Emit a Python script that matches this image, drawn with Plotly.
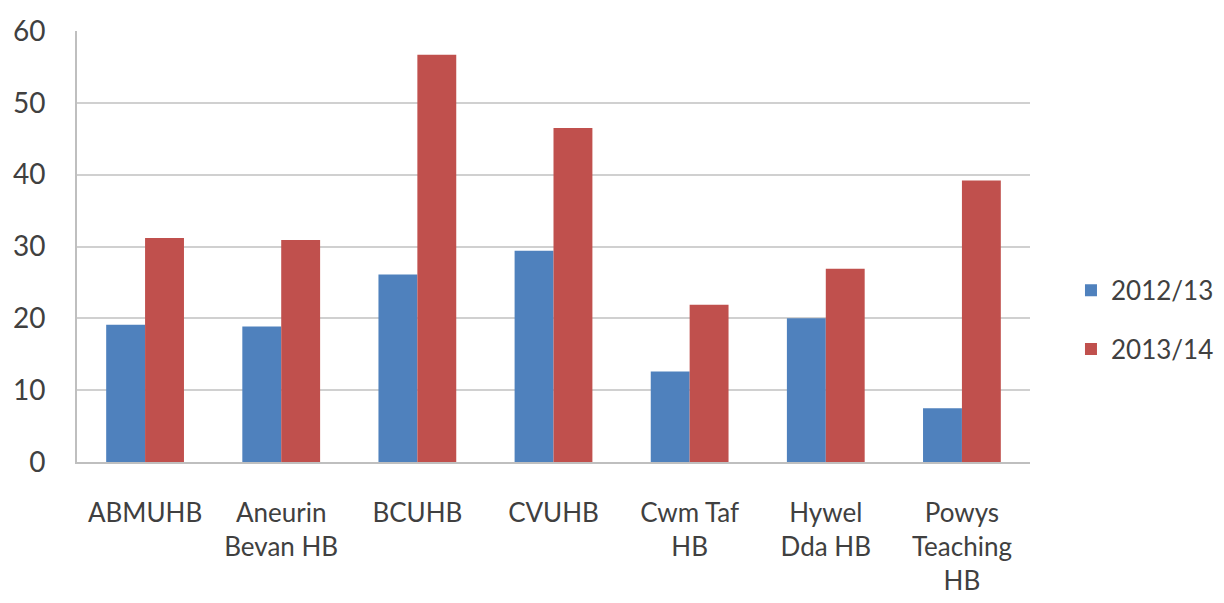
import plotly.graph_objects as go

categories = ["ABMUHB", "Aneurin<br>Bevan HB", "BCUHB", "CVUHB", "Cwm Taf<br>HB", "Hywel<br>Dda HB", "Powys<br>Teaching<br>HB"]
series_names = ["2012/13", "2013/14"]
values_2012 = [19.1, 18.85, 26.1, 29.4, 12.6, 20.0, 7.5]
values_2013 = [31.2, 30.9, 56.7, 46.5, 21.9, 26.9, 39.2]
y_ticks = [0, 10, 20, 30, 40, 50, 60]

colors = ["#4F81BD", "#C0504D"]
font_family = "Lato, 'Liberation Sans', sans-serif"

fig = go.Figure()
fig.add_trace(go.Bar(x=categories, y=values_2012, name=series_names[0],
                     marker=dict(color=colors[0], line=dict(width=0)), legendgroup="a"))
fig.add_trace(go.Bar(x=categories, y=values_2013, name=series_names[1],
                     marker=dict(color=colors[1], line=dict(width=0)), legendgroup="b"))

fig.update_layout(
    width=1216, height=595,
    margin=dict(l=69, r=194, t=23, b=141, autoexpand=False),
    paper_bgcolor="white", plot_bgcolor="white",
    barmode="group", bargap=0.4286, bargroupgap=0,
    font=dict(family=font_family, size=26, color="#404040"),
    showlegend=True,
    legend=dict(x=1.043, y=0.33, xanchor="left", yanchor="middle",
                traceorder="grouped", tracegroupgap=22, itemwidth=30,
                borderwidth=0, bgcolor="rgba(0,0,0,0)",
                font=dict(size=26, color="#404040")),
    xaxis=dict(showgrid=False, showline=True, linecolor="#bfbfbf", linewidth=2,
               ticks="", tickfont=dict(size=26), ticklabelstandoff=27,
               automargin=False, fixedrange=True),
    yaxis=dict(range=[0, 60], tickvals=y_ticks, showgrid=True, gridcolor="#d0d0d0",
               gridwidth=2, showline=True, linecolor="#bfbfbf", linewidth=2,
               zeroline=False, ticks="", tickfont=dict(size=28),
               ticklabelstandoff=24, automargin=False, fixedrange=True),
)

fig.write_html("out.html")
